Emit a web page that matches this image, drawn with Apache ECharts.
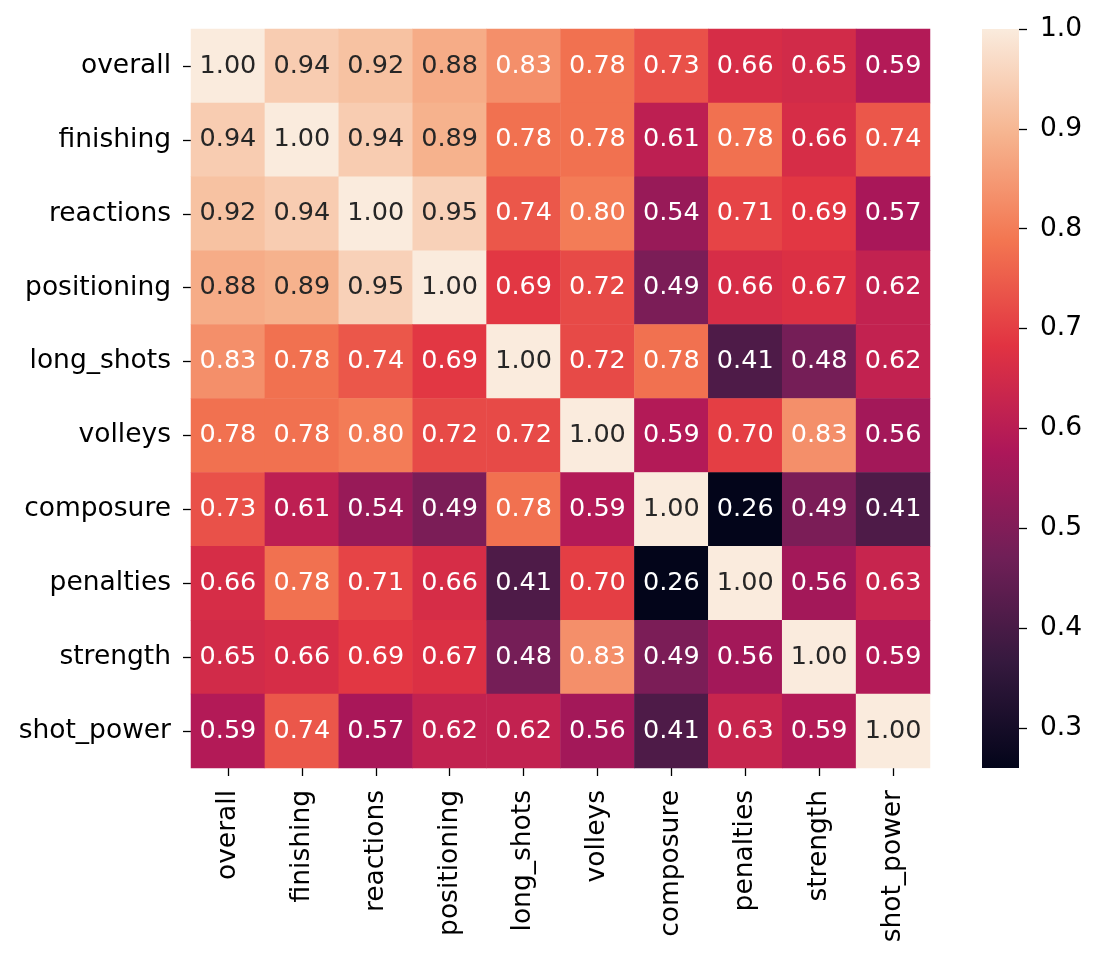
<!DOCTYPE html>
<html>
<head>
    <meta charset="utf-8">
    <title>heatmap</title>
    <script src="https://cdn.jsdelivr.net/npm/echarts@6/dist/echarts.min.js"></script>
    <style>
        html, body { margin: 0; padding: 0; background: #fff; }
        #main { width: 1099px; height: 959px; }
    </style>
</head>
<body>
    <div id="main"></div>
    <script>
        var names = ['overall', 'finishing', 'reactions', 'positioning', 'long_shots',
            'volleys', 'composure', 'penalties', 'strength', 'shot_power'];

        var overall = [1.00, 0.94, 0.92, 0.88, 0.83, 0.78, 0.73, 0.66, 0.65, 0.59];
        var finishing = [0.94, 1.00, 0.94, 0.89, 0.78, 0.78, 0.61, 0.78, 0.66, 0.74];
        var reactions = [0.92, 0.94, 1.00, 0.95, 0.74, 0.80, 0.54, 0.71, 0.69, 0.57];
        var positioning = [0.88, 0.89, 0.95, 1.00, 0.69, 0.72, 0.49, 0.66, 0.67, 0.62];
        var long_shots = [0.83, 0.78, 0.74, 0.69, 1.00, 0.72, 0.78, 0.41, 0.48, 0.62];
        var volleys = [0.78, 0.78, 0.80, 0.72, 0.72, 1.00, 0.59, 0.70, 0.83, 0.56];
        var composure = [0.73, 0.61, 0.54, 0.49, 0.78, 0.59, 1.00, 0.26, 0.49, 0.41];
        var penalties = [0.66, 0.78, 0.71, 0.66, 0.41, 0.70, 0.26, 1.00, 0.56, 0.63];
        var strength = [0.65, 0.66, 0.69, 0.67, 0.48, 0.83, 0.49, 0.56, 1.00, 0.59];
        var shot_power = [0.59, 0.74, 0.57, 0.62, 0.62, 0.56, 0.41, 0.63, 0.59, 1.00];

        var rows = [overall, finishing, reactions, positioning, long_shots,
            volleys, composure, penalties, strength, shot_power];

        var cbarTicks = [0.3, 0.4, 0.5, 0.6, 0.7, 0.8, 0.9, 1.0];
        var vmin = 0.26, vmax = 1.0;

        // rocket colormap stops
        var stops = [
            [0, '#03051a'], [1 / 7, '#35193e'], [2 / 7, '#701f57'], [3 / 7, '#ad1759'],
            [4 / 7, '#e13342'], [5 / 7, '#f37651'], [6 / 7, '#f6b48f'], [1, '#faebdd']
        ];
        function hex2rgb(h) {
            return [parseInt(h.substr(1, 2), 16), parseInt(h.substr(3, 2), 16), parseInt(h.substr(5, 2), 16)];
        }
        function rocket(t) {
            for (var i = 1; i < stops.length; i++) {
                if (t <= stops[i][0]) {
                    var a = hex2rgb(stops[i - 1][1]), b = hex2rgb(stops[i][1]);
                    var f = (t - stops[i - 1][0]) / (stops[i][0] - stops[i - 1][0]);
                    return 'rgb(' + [0, 1, 2].map(function (k) { return Math.round(a[k] + (b[k] - a[k]) * f); }).join(',') + ')';
                }
            }
            return stops[stops.length - 1][1];
        }
        var ramp = [];
        for (var i = 0; i <= 140; i++) ramp.push(rocket(i / 140));

        // colorbar gradient (top = vmax)
        var gradStops = stops.map(function (s) { return { offset: 1 - s[0], color: s[1] }; }).reverse();

        var data = [];
        rows.forEach(function (row, y) {
            row.forEach(function (v, x) {
                data.push({
                    value: [x, y, v],
                    label: { color: v >= 0.86 ? '#262626' : '#ffffff' }
                });
            });
        });

        var font = 'DejaVu Sans';
        var chart = echarts.init(document.getElementById('main'));
        chart.setOption({
            animation: false,
            textStyle: { fontFamily: font },
            grid: [
                { left: 191, top: 29, width: 739, height: 739 },
                { left: 982, top: 29, width: 37, height: 739 }
            ],
            graphic: [{
                type: 'rect',
                left: 982,
                top: 29,
                z: -10,
                shape: { width: 37, height: 739 },
                silent: true,
                style: {
                    fill: new echarts.graphic.LinearGradient(0, 0, 0, 1, gradStops)
                }
            }],
            xAxis: [{
                type: 'category',
                data: names,
                gridIndex: 0,
                axisLine: { show: false },
                axisTick: { show: true, alignWithLabel: true, length: 8, lineStyle: { color: '#000', width: 1.3 } },
                axisLabel: { rotate: 90, fontSize: 26.5, color: '#000', margin: 22, fontFamily: font },
                splitLine: { show: false }
            }, {
                type: 'category',
                data: [''],
                gridIndex: 1,
                show: false
            }],
            yAxis: [{
                type: 'category',
                data: names,
                inverse: true,
                gridIndex: 0,
                axisLine: { show: false },
                axisTick: { show: true, alignWithLabel: true, length: 8, lineStyle: { color: '#000', width: 1.3 } },
                axisLabel: { fontSize: 26.5, color: '#000', margin: 20, fontFamily: font },
                splitLine: { show: false }
            }, {
                type: 'value',
                gridIndex: 1,
                position: 'right',
                min: vmin,
                max: vmax,
                axisLine: { show: false, onZero: false },
                axisTick: { show: true, inside: false, length: 8, customValues: cbarTicks, lineStyle: { color: '#000', width: 1.3 } },
                axisLabel: {
                    fontSize: 26.5, color: '#000', margin: 21, fontFamily: font,
                    customValues: cbarTicks,
                    formatter: function (v) { return v.toFixed(1); }
                },
                splitLine: { show: false }
            }],
            visualMap: {
                type: 'continuous',
                show: false,
                min: vmin,
                max: vmax,
                seriesIndex: 0,
                inRange: { color: ramp }
            },
            series: [{
                type: 'heatmap',
                xAxisIndex: 0,
                yAxisIndex: 0,
                data: data,
                label: {
                    show: true,
                    fontSize: 25.5,
                    fontFamily: font,
                    formatter: function (p) { return p.value[2].toFixed(2); }
                },
                emphasis: { disabled: true }
            }, {
                type: 'scatter',
                xAxisIndex: 1,
                yAxisIndex: 1,
                data: [],
                silent: true
            }]
        });
    </script>
</body>
</html>
